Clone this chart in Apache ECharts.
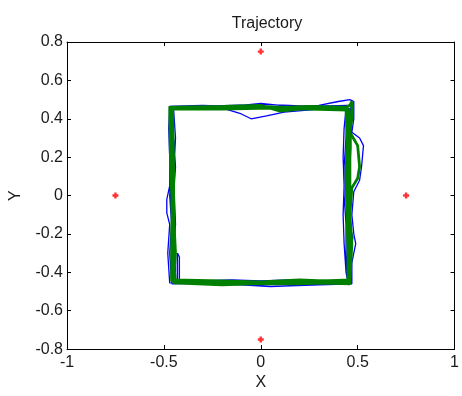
<!DOCTYPE html>
<html>
<head>
<meta charset="utf-8">
<script src="https://cdn.jsdelivr.net/npm/echarts@6/dist/echarts.min.js"></script>
<style>
  html, body { margin: 0; padding: 0; background: #fff; }
  #chart { width: 462px; height: 396px; }
</style>
</head>
<body>
<div id="chart"></div>
<script>
// axis ticks
const xTicks = [-1, -0.5, 0, 0.5, 1]
const yTicks = [-0.8, -0.6, -0.4, -0.2, 0, 0.2, 0.4, 0.6, 0.8]

// beacon positions (red stars)
const beacons = [[0, 0.75], [0, -0.75], [-0.75, 0], [0.75, 0]]

// measured trajectory (blue), several laps
const blueTrack = [
  [-0.46, 0.46], [-0.30, 0.465], [-0.15, 0.47], [0.00, 0.475], [0.15, 0.47], [0.30, 0.46], [0.44, 0.46],
  [0.46, 0.45], [0.46, 0.30], [0.45, 0.15], [0.44, 0.00], [0.45, -0.15], [0.46, -0.30], [0.46, -0.45],
  [0.30, -0.455], [0.15, -0.45], [0.00, -0.46], [-0.15, -0.455], [-0.30, -0.45], [-0.46, -0.45],
  [-0.47, -0.30], [-0.46, -0.15], [-0.47, 0.00], [-0.46, 0.15], [-0.47, 0.30], [-0.46, 0.46],
  [-0.30, 0.46], [-0.18, 0.45], [-0.10, 0.425], [-0.05, 0.40], [0.03, 0.415], [0.12, 0.435], [0.30, 0.45],
  [0.43, 0.455], [0.45, 0.44], [0.44, 0.30], [0.43, 0.15], [0.43, 0.00], [0.44, -0.15], [0.44, -0.30],
  [0.45, -0.44], [0.30, -0.445], [0.15, -0.44], [0.00, -0.445], [-0.15, -0.44], [-0.30, -0.445],
  [-0.45, -0.44], [-0.45, -0.30], [-0.44, -0.15], [-0.45, 0.00], [-0.44, 0.15], [-0.45, 0.30], [-0.47, 0.465],
  [-0.30, 0.47], [-0.15, 0.465], [0.00, 0.48], [0.15, 0.465], [0.30, 0.47], [0.40, 0.49], [0.46, 0.50],
  [0.48, 0.49], [0.48, 0.40], [0.47, 0.33], [0.51, 0.30], [0.53, 0.26], [0.52, 0.15], [0.51, 0.08],
  [0.48, 0.02], [0.47, -0.10], [0.48, -0.20], [0.49, -0.25], [0.47, -0.35], [0.47, -0.46],
  [0.30, -0.465], [0.15, -0.47], [0.05, -0.475], [-0.10, -0.465], [-0.30, -0.46], [-0.47, -0.455],
  [-0.48, -0.30], [-0.47, -0.15], [-0.485, -0.09], [-0.485, -0.02], [-0.47, 0.05], [-0.47, 0.20],
  [-0.475, 0.35], [-0.47, 0.46], [-0.20, 0.46], [0.10, 0.455], [0.44, 0.45], [0.43, 0.35], [0.425, 0.20],
  [0.43, 0.05], [0.425, -0.10], [0.43, -0.25], [0.44, -0.40], [0.45, -0.45], [0.20, -0.45], [-0.10, -0.455],
  [-0.40, -0.45], [-0.43, -0.45], [-0.43, -0.30], [-0.42, -0.32], [-0.42, -0.45], [-0.45, -0.45],
  [-0.45, -0.30], [-0.44, -0.15], [-0.45, 0.10], [-0.44, 0.30], [-0.45, 0.45],
  [-0.25, 0.455], [0.00, 0.46], [0.25, 0.465], [0.45, 0.47], [0.465, 0.46], [0.465, 0.25], [0.455, 0.05],
  [0.46, -0.15], [0.475, -0.22], [0.465, -0.30], [0.465, -0.455], [0.25, -0.46], [0.00, -0.465],
  [-0.25, -0.455], [-0.46, -0.46], [-0.44, -0.44], [-0.44, -0.32], [-0.455, -0.20], [-0.465, 0.05],
  [-0.455, 0.25], [-0.46, 0.465]
]

// estimated trajectory (green), several laps
const greenTrack = [
  [-0.465, 0.46], [-0.20, 0.46], [0.00, 0.465], [0.20, 0.455], [0.44, 0.455], [0.455, 0.44], [0.45, 0.20],
  [0.45, 0.00], [0.455, -0.20], [0.46, -0.44], [0.20, -0.45], [0.00, -0.455], [-0.20, -0.45],
  [-0.46, -0.445], [-0.46, -0.20], [-0.455, 0.00], [-0.46, 0.20], [-0.465, 0.46],
  [-0.20, 0.465], [0.00, 0.47], [0.10, 0.44], [0.20, 0.45], [0.44, 0.46], [0.46, 0.47], [0.47, 0.49],
  [0.47, 0.40], [0.46, 0.33], [0.50, 0.26], [0.51, 0.15], [0.50, 0.09], [0.47, 0.04], [0.46, -0.10],
  [0.47, -0.25], [0.46, -0.45], [0.20, -0.46], [-0.05, -0.46], [-0.20, -0.465], [-0.45, -0.455],
  [-0.45, -0.25], [-0.46, -0.05], [-0.45, 0.20], [-0.46, 0.455],
  [-0.20, 0.455], [0.00, 0.46], [0.20, 0.46], [0.44, 0.45], [0.445, 0.30], [0.44, 0.10], [0.445, -0.10],
  [0.45, -0.30], [0.45, -0.45], [0.20, -0.44], [0.00, -0.45], [-0.20, -0.445], [-0.45, -0.44],
  [-0.44, -0.30], [-0.45, -0.10], [-0.45, 0.15], [-0.455, 0.45],
  [-0.20, 0.45], [0.05, 0.455], [0.25, 0.45], [0.45, 0.445], [0.455, 0.25], [0.455, 0.05], [0.45, -0.15],
  [0.455, -0.35], [0.455, -0.455], [0.10, -0.455], [-0.25, -0.455], [-0.455, -0.45], [-0.455, -0.20],
  [-0.46, 0.10], [-0.46, 0.455],
  [-0.25, 0.46], [0.00, 0.455], [0.25, 0.465], [0.445, 0.46], [0.46, 0.40], [0.46, 0.15], [0.46, -0.05],
  [0.465, -0.30], [0.46, -0.46], [0.15, -0.45], [-0.15, -0.46], [-0.44, -0.45], [-0.45, -0.35],
  [-0.45, -0.15], [-0.465, 0.10], [-0.47, 0.465]
]

const textColor = '#1a1a1a'
const font = 'Liberation Sans, Arial, sans-serif'

const chart = echarts.init(document.getElementById('chart'))

function boxAxis(position, isX) {
  return {
    type: 'value',
    position,
    min: isX ? -1 : -0.8,
    max: isX ? 1 : 0.8,
    interval: isX ? 0.5 : 0.2,
    axisLine: { show: true, onZero: false, lineStyle: { color: '#000', width: 1 } },
    axisTick: { show: true, inside: true, length: 4, lineStyle: { color: '#000' } },
    axisLabel: { show: false },
    splitLine: { show: false }
  }
}

chart.setOption({
  animation: false,
  title: {
    text: 'Trajectory',
    left: 262,
    top: 11,
    textAlign: 'center',
    textStyle: { fontFamily: font, fontSize: 16, fontWeight: 'normal', color: textColor }
  },
  grid: { left: 67, right: 4, top: 42, bottom: 42, containLabel: false },
  xAxis: [
    {
      type: 'value',
      min: -1,
      max: 1,
      interval: 0.5,
      name: 'X',
      nameLocation: 'middle',
      nameGap: 25,
      nameTextStyle: { fontFamily: font, fontSize: 16, color: textColor },
      axisLine: { show: true, onZero: false, lineStyle: { color: '#000', width: 1 } },
      axisTick: { show: true, inside: true, length: 4, lineStyle: { color: '#000' } },
      axisLabel: {
        fontFamily: font, fontSize: 16, color: textColor, margin: 5,
        formatter: (v) => String(Math.round(v * 10) / 10)
      },
      splitLine: { show: false }
    },
    boxAxis('top', true)
  ],
  yAxis: [
    {
      type: 'value',
      min: -0.8,
      max: 0.8,
      interval: 0.2,
      name: 'Y',
      nameLocation: 'middle',
      nameRotate: 90,
      nameGap: 43,
      nameTextStyle: { fontFamily: font, fontSize: 16, color: textColor },
      axisLine: { show: true, onZero: false, lineStyle: { color: '#000', width: 1 } },
      axisTick: { show: true, inside: true, length: 4, lineStyle: { color: '#000' } },
      axisLabel: {
        fontFamily: font, fontSize: 16, color: textColor, margin: 4,
        formatter: (v) => String(Math.round(v * 10) / 10)
      },
      splitLine: { show: false }
    },
    boxAxis('right', false)
  ],
  series: [
    {
      name: 'measured',
      type: 'line',
      data: blueTrack,
      showSymbol: false,
      symbol: 'none',
      lineStyle: { color: '#0000ff', width: 1.3 },
      z: 2
    },
    {
      name: 'estimated',
      type: 'line',
      data: greenTrack,
      showSymbol: false,
      symbol: 'none',
      lineStyle: { color: '#008000', width: 2.8 },
      z: 3
    },
    {
      name: 'beacons',
      type: 'scatter',
      data: beacons,
      symbol: 'path://M3,0 L7,0 L7,3 L10,3 L10,7 L7,7 L7,10 L3,10 L3,7 L0,7 L0,3 L3,3 Z',
      symbolSize: 6,
      itemStyle: { color: '#ff0000' },
      z: 4
    }
  ]
})
</script>
</body>
</html>
